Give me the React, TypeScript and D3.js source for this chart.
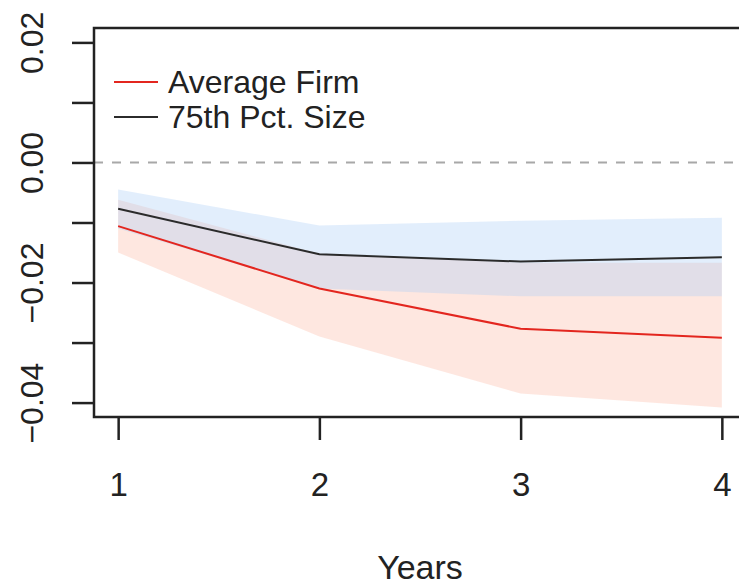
import React, { useEffect, useRef } from "react";
import * as d3 from "d3";

const years = [1, 2, 3, 4];
const avgFirm = [-0.0106, -0.021, -0.0277, -0.0292];
const avgLow = [-0.015, -0.029, -0.0385, -0.0408];
const avgHigh = [-0.0062, -0.0152, -0.0167, -0.0167];
const pct75 = [-0.0077, -0.0153, -0.0165, -0.0158];
const pct75Low = [-0.011, -0.021, -0.0223, -0.0223];
const pct75High = [-0.0045, -0.0105, -0.0097, -0.0092];
const yTicks = [0.02, 0.01, 0.0, -0.01, -0.02, -0.03, -0.04];
const yLabels = [0.02, 0.0, -0.02, -0.04];
const legendLabels = ["Average Firm", "75th Pct. Size"];

const W = 739;
const H = 587;
const FONT = "'Liberation Sans', Arial, Helvetica, sans-serif";

const App = () => {
    const ref = useRef(null);

    useEffect(() => {
        document.body.style.margin = "0";
        const g = d3.select(ref.current);
        g.selectAll("*").remove();

        // R style: 4% padding on both axes
        const xScale = d3.scaleLinear().domain([0.88, 4.12]).range([94, 746]);
        const yScale = d3.scaleLinear().domain([-0.0424, 0.0224]).range([417, 28]);

        const area = (lo, hi) => d3.area()
            .x((d, i) => xScale(years[i]))
            .y0((d, i) => yScale(lo[i]))
            .y1((d, i) => yScale(hi[i]));
        const line = vals => d3.line()
            .x((d, i) => xScale(years[i]))
            .y((d, i) => yScale(vals[i]));

        g.append("path")
            .attr("d", area(avgLow, avgHigh)(years))
            .attr("fill", "rgba(250, 160, 130, 0.25)");
        g.append("path")
            .attr("d", area(pct75Low, pct75High)(years))
            .attr("fill", "rgba(173, 206, 245, 0.35)");

        g.append("line")
            .attr("x1", 94).attr("x2", 746)
            .attr("y1", yScale(0)).attr("y2", yScale(0))
            .attr("stroke", "#a8a8a8")
            .attr("stroke-width", 2)
            .attr("stroke-dasharray", "9,9");

        g.append("path")
            .attr("d", line(pct75)(years))
            .attr("fill", "none")
            .attr("stroke", "#2b2b2b")
            .attr("stroke-width", 2);
        g.append("path")
            .attr("d", line(avgFirm)(years))
            .attr("fill", "none")
            .attr("stroke", "#e3261f")
            .attr("stroke-width", 2);

        // box
        g.append("rect")
            .attr("x", 94).attr("y", 28)
            .attr("width", 652).attr("height", 389)
            .attr("fill", "none")
            .attr("stroke", "#222")
            .attr("stroke-width", 2.5);

        // y axis
        const yAxis = d3.axisLeft(yScale)
            .tickValues(yTicks)
            .tickSize(21)
            .tickFormat(d => (yLabels.some(v => Math.abs(v - d) < 1e-9) ? d3.format(".2f")(d) : ""));
        const yAxisG = g.append("g")
            .attr("transform", "translate(93, 0)")
            .call(yAxis);
        yAxisG.select(".domain").remove();
        yAxisG.selectAll("line").attr("stroke", "#222").attr("stroke-width", 2.5);
        yAxisG.selectAll("text")
            .attr("font-family", FONT)
            .attr("font-size", 32)
            .attr("fill", "#222")
            .attr("text-anchor", "middle")
            .attr("dy", null)
            .attr("x", null)
            .attr("transform", "translate(-50, 0) rotate(-90)");

        // x axis
        const xAxis = d3.axisBottom(xScale)
            .tickValues(years)
            .tickSize(22)
            .tickFormat(d3.format("d"));
        const xAxisG = g.append("g")
            .attr("transform", "translate(0, 418)")
            .call(xAxis);
        xAxisG.select(".domain").remove();
        xAxisG.selectAll("line").attr("stroke", "#222").attr("stroke-width", 2.5);
        xAxisG.selectAll("text")
            .attr("font-family", FONT)
            .attr("font-size", 33)
            .attr("fill", "#222")
            .attr("dy", null)
            .attr("y", 78);

        g.append("text")
            .attr("x", xScale(2.5))
            .attr("y", 579)
            .attr("text-anchor", "middle")
            .attr("font-family", FONT)
            .attr("font-size", 34)
            .attr("fill", "#222")
            .text("Years");

        // legend
        const legendColors = ["#e3261f", "#2b2b2b"];
        const legend = g.append("g");
        legendLabels.forEach((lab, i) => {
            const y = 82 + i * 35;
            legend.append("line")
                .attr("x1", 114).attr("x2", 158)
                .attr("y1", y).attr("y2", y)
                .attr("stroke", legendColors[i])
                .attr("stroke-width", 2);
            legend.append("text")
                .attr("x", 168)
                .attr("y", y + 11)
                .attr("font-family", FONT)
                .attr("font-size", 32)
                .attr("fill", "#222")
                .text(lab);
        });
    }, []);

    return (
        <svg width={W} height={H} style={{ display: "block", background: "#fff" }}>
            <g ref={ref} />
        </svg>
    );
};

export default App;
